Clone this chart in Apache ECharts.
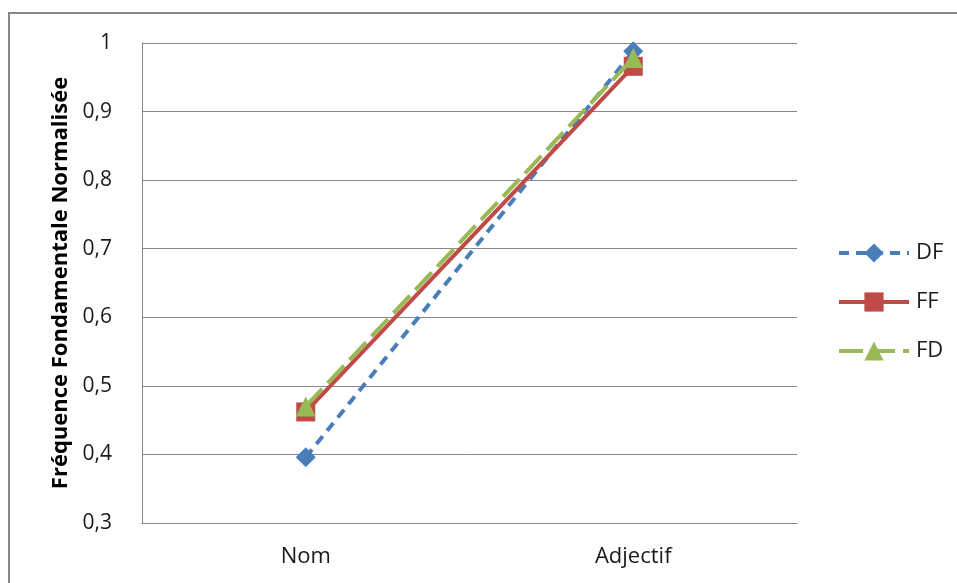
<!DOCTYPE html>
<html>
<head>
<meta charset="utf-8">
<script src="https://cdn.jsdelivr.net/npm/echarts@6/dist/echarts.min.js"></script>
<style>
html,body{margin:0;padding:0;background:#fff;}
#chart{width:957px;height:583px;}
</style>
</head>
<body>
<div id="chart"></div>
<script>
var categories = ['Nom', 'Adjectif'];
var seriesNames = ['DF', 'FF', 'FD'];
var dfValues = [0.396, 0.988];
var ffValues = [0.462, 0.966];
var fdValues = [0.470, 0.978];
var yTitle = 'Fréquence Fondamentale Normalisée';

var FONT = '"Open Sans", sans-serif';
var chart = echarts.init(document.getElementById('chart'), null, {renderer: 'canvas'});
function fmt(v) { return String(Math.round(v * 10) / 10).replace('.', ','); }

chart.setOption({
  animation: false,
  backgroundColor: '#ffffff',
  graphic: [{
    type: 'rect',
    shape: {x: 9, y: 13, width: 1200, height: 1000},
    style: {fill: null, stroke: '#878787', lineWidth: 2},
    silent: true,
    z: -10
  }],
  grid: {left: 142, right: 160, top: 43, bottom: 60, containLabel: false},
  legend: {
    orient: 'vertical',
    left: 837,
    top: 242,
    padding: 0,
    itemWidth: 70,
    itemHeight: 24,
    itemGap: 27,
    data: seriesNames,
    lineStyle: {width: 4},
    textStyle: {fontFamily: FONT, fontSize: 22, color: '#1a1a1a', padding: [0, 0, 0, 2]}
  },
  xAxis: {
    type: 'category',
    data: categories,
    boundaryGap: true,
    axisLine: {show: true, lineStyle: {color: '#868686', width: 1}},
    axisTick: {show: false},
    axisLabel: {fontFamily: FONT, fontSize: 22, color: '#1a1a1a', margin: 23}
  },
  yAxis: {
    type: 'value',
    min: 0.3,
    max: 1,
    interval: 0.1,
    name: yTitle,
    nameLocation: 'middle',
    nameGap: 68,
    nameTextStyle: {fontFamily: FONT, fontSize: 22, fontWeight: 'bold', color: '#000'},
    axisLine: {show: true, lineStyle: {color: '#868686', width: 1}},
    axisTick: {show: false},
    splitLine: {show: true, lineStyle: {color: '#868686', width: 1}},
    axisLabel: {fontFamily: FONT, fontSize: 21, color: '#1a1a1a', margin: 30, formatter: fmt}
  },
  series: [
    {
      name: seriesNames[0], type: 'line', data: dfValues,
      symbol: 'diamond', symbolSize: 20,
      itemStyle: {color: '#4A7EBB'},
      lineStyle: {color: '#4A7EBB', width: 4, type: [10, 7]},
      z: 2
    },
    {
      name: seriesNames[1], type: 'line', data: ffValues,
      symbol: 'rect', symbolSize: 19,
      itemStyle: {color: '#BE4B48'},
      lineStyle: {color: '#BE4B48', width: 4, type: 'solid'},
      z: 3
    },
    {
      name: seriesNames[2], type: 'line', data: fdValues,
      symbol: 'triangle', symbolSize: 20,
      itemStyle: {color: '#98B954'},
      lineStyle: {color: '#98B954', width: 4, type: [24, 8]},
      z: 4
    }
  ]
});
</script>
</body>
</html>
